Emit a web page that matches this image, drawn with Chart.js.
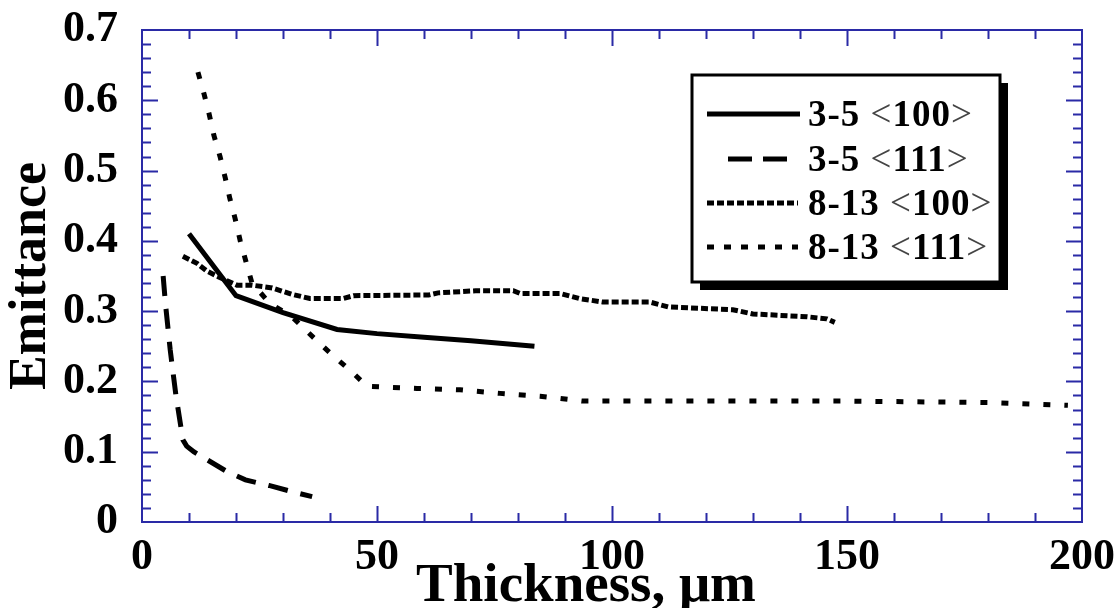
<!DOCTYPE html>
<html>
<head>
<meta charset="utf-8">
<script src="https://cdn.jsdelivr.net/npm/chart.js@4.4.1/dist/chart.umd.min.js"></script>
<style>
  html, body { margin: 0; padding: 0; background: #fff; }
  #wrap { width: 1120px; height: 608px; }
</style>
</head>
<body>
<div id="wrap"><canvas id="chart"></canvas></div>
<script>
// Series labels
const seriesLabels = ['3-5 <100>', '3-5 <111>', '8-13 <100>', '8-13 <111>'];

// 3-5 um band, <100>
const band35_100_x = [10, 20, 30, 41.5, 50, 60, 70, 83.5];
const band35_100_y = [0.41, 0.322, 0.298, 0.274, 0.268, 0.263, 0.258, 0.25];

// 3-5 um band, <111>
const band35_111_x = [4.5, 5, 6, 7.2, 8.7, 9.5, 11, 14, 18, 22, 27, 32, 36.2];
const band35_111_y = [0.35, 0.31, 0.245, 0.181, 0.117, 0.108, 0.1, 0.088, 0.072, 0.06, 0.052, 0.043, 0.036];

// 8-13 um band, <100>
const band813_100_x = [8.7, 11.7, 13.8, 16.2, 20.2, 23.4, 27.7, 31.9, 35.7, 42.8, 45, 61, 63, 71, 79, 80.5, 89, 93, 98, 108, 112, 125.7, 130, 141.5, 145.7, 147.4];
const band813_100_y = [0.378, 0.368, 0.357, 0.349, 0.337, 0.337, 0.333, 0.324, 0.318, 0.318, 0.322, 0.323, 0.326, 0.329, 0.329, 0.325, 0.325, 0.318, 0.313, 0.313, 0.306, 0.302, 0.296, 0.292, 0.289, 0.284];

// 8-13 um band, <111>
const band813_111_x = [11.9, 13.2, 14.3, 15.3, 16.6, 17.7, 18.7, 19.8, 20.9, 22.1, 23.4, 27.2, 31.9, 36.4, 40.6, 44.9, 47.9, 58.5, 67.7, 76.2, 84.7, 93.8, 150, 180, 197];
const band813_111_y = [0.64, 0.609, 0.58, 0.55, 0.52, 0.49, 0.46, 0.432, 0.40, 0.371, 0.34, 0.311, 0.292, 0.263, 0.237, 0.212, 0.193, 0.19, 0.188, 0.183, 0.179, 0.172, 0.172, 0.17, 0.166];

// Axis ranges and tick steps
const xMin = 0, xMax = 200, xMinorStep = 10, xMajorStep = 50;
const yMin = 0, yMax = 0.7, yMinorStep = 0.02, yMajorStep = 0.1;

const AXIS_BLUE = '#2a2aa6';
const SERIF = '"Liberation Serif", "Times New Roman", serif';

const toPoints = (xs, ys) => xs.map((x, i) => ({ x, y: ys[i] }));

const isMultiple = (v, step) => Math.abs(v / step - Math.round(v / step)) < 1e-6;

// Style for each series line
const makeDataset = (label, data, dash) => ({
  label,
  data,
  borderColor: '#000',
  borderWidth: 5,
  borderDash: dash,
  borderCapStyle: 'butt',
  pointRadius: 0,
  fill: false,
  tension: 0,
});

// Frame, inward ticks, legend box and x title
const framePlugin = {
  id: 'frame',
  afterDraw(chart) {
    const { ctx, chartArea: a, scales } = chart;
    ctx.save();

    // blue frame
    ctx.strokeStyle = AXIS_BLUE;
    ctx.lineWidth = 2;
    ctx.strokeRect(a.left, a.top, a.right - a.left, a.bottom - a.top);

    // y ticks on left and right
    ctx.lineWidth = 2;
    scales.y.ticks.forEach(t => {
      if (t.value <= yMin + 1e-9 || t.value >= yMax - 1e-9) return;
      const py = Math.round(scales.y.getPixelForValue(t.value)) + 0.5;
      const len = isMultiple(t.value, yMajorStep) ? 16 : 9;
      ctx.beginPath();
      ctx.moveTo(a.left, py); ctx.lineTo(a.left + len, py);
      ctx.moveTo(a.right, py); ctx.lineTo(a.right - len, py);
      ctx.stroke();
    });
    // x ticks on bottom and top
    scales.x.ticks.forEach(t => {
      if (t.value <= xMin || t.value >= xMax) return;
      const px = Math.round(scales.x.getPixelForValue(t.value)) + 0.5;
      const len = isMultiple(t.value, xMajorStep) ? 16 : 9;
      ctx.beginPath();
      ctx.moveTo(px, a.bottom); ctx.lineTo(px, a.bottom - len);
      ctx.moveTo(px, a.top); ctx.lineTo(px, a.top + len);
      ctx.stroke();
    });

    // legend box with shadow
    const bx = 692, by = 75, bw = 308, bh = 207;
    ctx.fillStyle = '#000';
    ctx.fillRect(bx + 8, by + 8, bw, bh);
    ctx.fillStyle = '#fff';
    ctx.fillRect(bx, by, bw, bh);
    ctx.strokeStyle = '#000';
    ctx.lineWidth = 3;
    ctx.strokeRect(bx, by, bw, bh);

    const rows = [114, 159, 203, 247];
    const samples = [[707, 800], [728, 798], [707, 798], [707, 798]];
    const legendDash = [[], [24, 11], [7, 3], [7, 10]];
    chart.data.datasets.forEach((ds, i) => {
      const y = rows[i];
      ctx.strokeStyle = '#000';
      ctx.lineWidth = 5;
      ctx.lineCap = 'butt';
      ctx.setLineDash(legendDash[i]);
      ctx.beginPath();
      ctx.moveTo(samples[i][0], y);
      ctx.lineTo(samples[i][1], y);
      ctx.stroke();
      ctx.setLineDash([]);

      // label, brackets in normal weight
      let x = 808;
      ctx.textBaseline = 'middle';
      ctx.textAlign = 'left';
      ctx.letterSpacing = '1px';
      ds.label.split(/([<>])/).filter(s => s.length).forEach(part => {
        const bracket = part === '<' || part === '>';
        ctx.font = (bracket ? '' : 'bold ') + '37px ' + SERIF;
        ctx.fillStyle = bracket ? '#444' : '#000';
        ctx.fillText(part, x, y + 2);
        x += ctx.measureText(part).width;
      });
      ctx.letterSpacing = '0px';
    });

    // x axis title
    ctx.font = 'bold 55px ' + SERIF;
    ctx.fillStyle = '#000';
    ctx.textAlign = 'center';
    ctx.textBaseline = 'alphabetic';
    ctx.fillText('Thickness, \u03bcm', 586, 601);

    ctx.restore();
  },
};

const ctx = document.getElementById('chart').getContext('2d');
new Chart(ctx, {
  type: 'line',
  data: {
    datasets: [
      makeDataset(seriesLabels[0], toPoints(band35_100_x, band35_100_y), []),
      makeDataset(seriesLabels[1], toPoints(band35_111_x, band35_111_y), [20, 13]),
      makeDataset(seriesLabels[2], toPoints(band813_100_x, band813_100_y), [7, 3]),
      makeDataset(seriesLabels[3], toPoints(band813_111_x, band813_111_y), [7, 14]),
    ],
  },
  options: {
    responsive: true,
    maintainAspectRatio: false,
    animation: false,
    layout: { padding: { top: 30, right: 38, left: 0, bottom: 0 } },
    plugins: {
      legend: { display: false },
      tooltip: { enabled: false },
    },
    scales: {
      x: {
        type: 'linear',
        min: xMin,
        max: xMax,
        afterFit: scale => {
          scale.height = 86;
          scale.paddingLeft = 0;
          scale.paddingRight = 0;
        },
        grid: { display: false, drawTicks: false },
        border: { display: false },
        ticks: {
          stepSize: xMinorStep,
          autoSkip: false,
          maxRotation: 0,
          padding: 9,
          color: '#000',
          font: { family: SERIF, size: 44, weight: 'bold' },
          callback: v => (isMultiple(v, xMajorStep) ? String(Math.round(v)) : ''),
        },
      },
      y: {
        type: 'linear',
        min: yMin,
        max: yMax,
        afterFit: scale => {
          scale.width = 142;
          scale.paddingTop = 0;
          scale.paddingBottom = 0;
        },
        grid: { display: false, drawTicks: false },
        border: { display: false },
        ticks: {
          stepSize: yMinorStep,
          autoSkip: false,
          padding: 24,
          color: '#000',
          font: { family: SERIF, size: 44, weight: 'bold' },
          callback: v => {
            if (!isMultiple(v, yMajorStep)) return '';
            return Math.abs(v) < 1e-9 ? '0' : v.toFixed(1);
          },
        },
        title: {
          display: true,
          text: 'Emittance',
          color: '#000',
          padding: { top: 0, bottom: 0 },
          font: { family: SERIF, size: 52, weight: 'bold' },
        },
      },
    },
  },
  plugins: [framePlugin],
});
</script>
</body>
</html>
